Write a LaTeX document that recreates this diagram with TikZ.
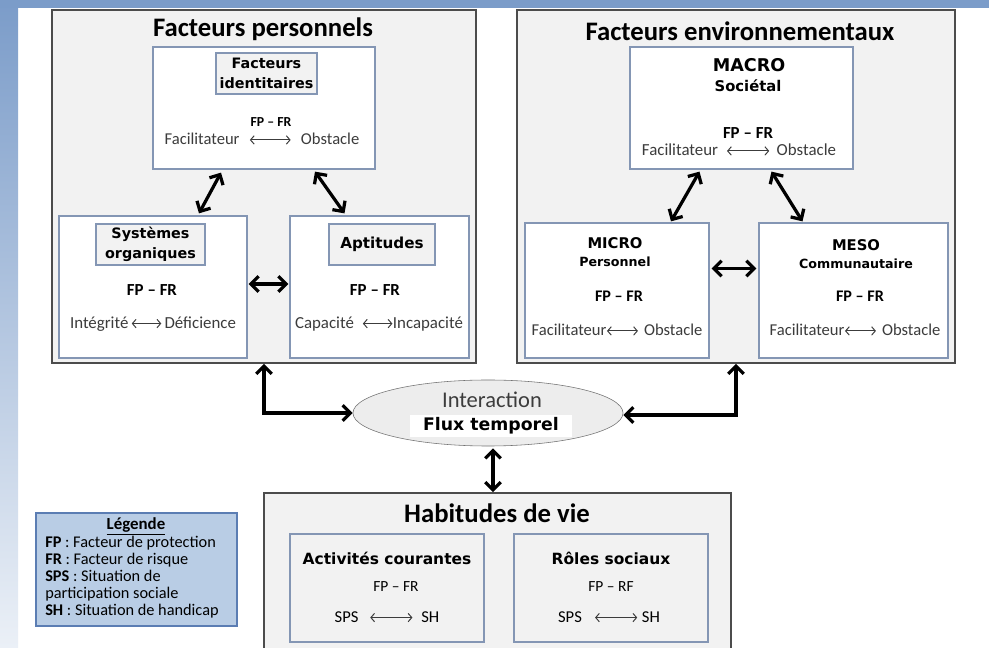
\documentclass[tikz,border=0pt]{standalone}
\usepackage{fontspec}
\setmainfont{Carlito}
\newfontfamily\vfont{DejaVu Sans}
\usetikzlibrary{arrows.meta,calc,fit,shapes.geometric}

\definecolor{bandblue}{HTML}{7B9CC9}
\definecolor{panel}{HTML}{F2F2F2}
\definecolor{edgeblue}{HTML}{8496B4}
\definecolor{legendblue}{HTML}{B9CDE5}
\definecolor{legendedge}{HTML}{5B7DB3}
\definecolor{txt}{HTML}{3C3C3C}

\tikzset{thinarrow/.style={{Straight Barb[length=2.6pt,width=6pt]}-{Straight Barb[length=2.6pt,width=6pt]},line width=0.7pt,txt}}
% small double arrow inside the texts
\newcommand{\lra}[1]{\tikz[baseline=-0.6ex]\draw[thinarrow] (0,0) -- (#1,0);}

\begin{document}
\begin{tikzpicture}[x=0.025cm,y=-0.025cm,
  outerbox/.style={draw=black!70,line width=1.3pt,fill=panel,inner sep=0pt},
  whitebox/.style={draw=edgeblue,line width=0.9pt,fill=white,inner sep=0pt},
  tagbox/.style={draw=edgeblue,line width=0.9pt,fill=panel,inner sep=0pt},
  heading/.style={font=\bfseries\fontsize{19}{22}\selectfont},
  tagtext/.style={font=\vfont\bfseries\fontsize{#1}{14}\selectfont,align=center,inner sep=0pt},
  tagtext/.default=10.5,
  fpfr/.style={font=\bfseries\fontsize{#1}{14}\selectfont,inner sep=0pt},
  fpfr/.default=12,
  pair/.style={text=txt,font=\fontsize{#1}{14}\selectfont,inner sep=0pt},
  pair/.default=12,
  bigarrow/.style={{Straight Barb[length=5.5pt,width=11pt]}-{Straight Barb[length=5.5pt,width=11pt]},line width=2.3pt}]
\useasboundingbox (0,0) rectangle (989,648);
\clip (0,0) rectangle (989,648);
% background
\fill[white] (0,0) rectangle (989,648);
\shade[top color=bandblue,middle color=bandblue!75,bottom color=bandblue!15] (0,0) rectangle (18,648);
\fill[bandblue] (0,0) rectangle (989,8);

% Facteurs personnels
\node[outerbox,fit={(52,10) (476,363)}] (fp) {};
\node[heading] at (263,29) {Facteurs personnels};
\node[whitebox,fit={(153,47) (375,169)}] (fi) {};
\node[tagbox,fit={(216,53) (317,94)}] (tfi) {};
\node[tagtext=10.2] at (tfi) {Facteurs\\identitaires};
\node[fpfr=9.8] at (271,122) {FP – FR};
\node[pair=11.8] at (262,139) {Facilitateur\hspace{7pt}\lra{29pt}\hspace{7pt}Obstacle};
\node[whitebox,fit={(59,216) (247,358)}] (so) {};
\node[tagbox,fit={(96,224) (205,265)}] (tso) {};
\node[tagtext=10.2] at (tso) {Systèmes\\organiques};
\node[fpfr] at (152,290) {FP – FR};
\node[pair] at (153,324) {Intégrité\hspace{2pt}\lra{21pt}\hspace{2pt}Déficience};
\node[whitebox,fit={(290,216) (469,358)}] (apt) {};
\node[tagbox,fit={(329,224) (435,265)}] (tapt) {};
\node[tagtext=10.8] at (tapt) {Aptitudes};
\node[fpfr] at (375,290) {FP – FR};
\node[pair] at (379,324) {Capacité\hspace{6pt}\lra{21pt}Incapacité};
\draw[bigarrow] ($(fi.south)+(-43,3)$) -- ($(so.north)+(46,-2)$);
\draw[bigarrow] ($(fi.south)+(51,2)$) -- ($(apt.north)+(-35,-2)$);
\draw[bigarrow] ($(so.east)+(1,-3)$) -- ($(apt.west)+(-1,-3)$);

% Facteurs environnementaux
\node[outerbox,fit={(517,10) (955,363)}] (fe) {};
\node[heading] at (740,31) {Facteurs environnementaux};
\node[whitebox,fit={(630,47) (853,169)}] (macro) {};
\node[tagtext=12.5] at (749,65) {MACRO};
\node[tagtext=10.5] at (748,86) {Sociétal};
\node[fpfr] at (748,133) {FP – FR};
\node[pair] at (739,150) {Facilitateur\hspace{6pt}\lra{30pt}\hspace{5pt}Obstacle};
\node[whitebox,fit={(525,223) (709,358)}] (micro) {};
\node[tagtext=10.5] at (615,243) {MICRO};
\node[tagtext=9] at (615,262) {Personnel};
\node[fpfr=11.5] at (619,296) {FP – FR};
\node[pair=11.8] at (617,330) {Facilitateur\lra{22pt}\hspace{4pt}Obstacle};
\node[whitebox,fit={(759,223) (948,358)}] (meso) {};
\node[tagtext=10.5] at (856,245) {MESO};
\node[tagtext=9] at (856,264) {Communautaire};
\node[fpfr=11.5] at (860,296) {FP – FR};
\node[pair=11.8] at (855,330) {Facilitateur\lra{22pt}\hspace{4pt}Obstacle};
\draw[bigarrow] ($(macro.south)+(-42,2)$) -- ($(micro.north)+(54,-1)$);
\draw[bigarrow] ($(macro.south)+(30,2)$) -- ($(meso.north)+(-51,-1)$);
\draw[bigarrow] ($(micro.east)+(2,-22)$) -- ($(meso.west)+(-2,-22)$);

% Interaction
\node[ellipse,draw=black!55,fill=black!7,minimum width=6.75cm,minimum height=1.65cm,inner sep=0pt] (ell) at (488,413) {};
\node[text=txt,font=\fontsize{16}{18}\selectfont] at (492,400) {Interaction};
\node[fill=white,font=\vfont\bfseries\fontsize{12.3}{14}\selectfont,inner xsep=9pt,inner ysep=2pt] at (491,426) {Flux temporel};
\draw[bigarrow] (fp.south) |- (ell.west);
\draw[bigarrow] (fe.south) |- ($(ell.east)+(0,2)$);

% Habitudes de vie
\node[outerbox,fit={(264,493) (731,670)}] (hv) {};
\node[heading] at (497,513) {Habitudes de vie};
\node[tagbox,fit={(290,534) (484,642)}] (ac) {};
\node[tagtext=11] at (387,558) {Activités courantes};
\node[pair=11,text=black] at (396,587) {FP – FR};
\node[pair=11.8,text=black] at (387,617) {SPS\hspace{8pt}\lra{30pt}\hspace{6pt}SH};
\node[tagbox,fit={(514,534) (708,642)}] (rs) {};
\node[tagtext=11] at (611,558) {Rôles sociaux};
\node[pair=11,text=black] at (611,587) {FP – RF};
\node[pair=11.8,text=black] at (609,617) {SPS\hspace{9pt}\lra{30pt}\hspace{3pt}SH};
\coordinate (ellbot) at ($(ell.south)+(5,2)$);
\draw[bigarrow] (ellbot) -- (ellbot |- hv.north);

% Legende
\node[draw=legendedge,fill=legendblue,line width=0.9pt,inner sep=0pt,fit={(36,513) (237,626)}] (leg) {};
\node[font=\bfseries\fontsize{12}{12}\selectfont,inner sep=0pt] at (136,526) {\underline{Légende}};
\node[anchor=west,align=left,inner sep=0pt,font=\fontsize{11.6}{12.1}\selectfont] at (45,577)
  {\textbf{FP} : Facteur de protection\\\textbf{FR} : Facteur de risque\\\textbf{SPS} : Situation de\\participation sociale\\\textbf{SH} : Situation de handicap};
\end{tikzpicture}
\end{document}
